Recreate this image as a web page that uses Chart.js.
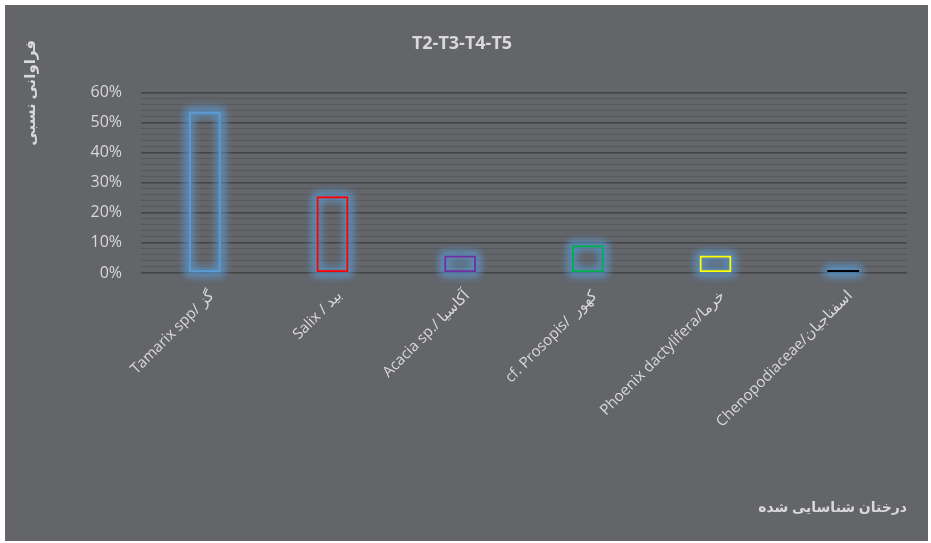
<!DOCTYPE html>
<html>
<head>
<meta charset="utf-8">
<script src="https://cdn.jsdelivr.net/npm/chart.js@4/dist/chart.umd.min.js"></script>
<style>
  body { margin: 0; background: #ffffff; }
  #wrap { position: absolute; left: 5px; top: 5px; width: 923px; height: 536px; background: #646569; }
</style>
</head>
<body>
<div id="wrap"><canvas id="treeChart" width="923" height="536"></canvas></div>
<script>
// درختان شناسایی شده
const categories = [
  "Tamarix spp/ گز",
  "Salix / بید",
  "Acacia sp./ آکاسیا",
  "cf. Prosopis/  کهور",
  "Phoenix dactylifera/خرما",
  "Chenopodiaceae/اسفناجیان"
];
// فراوانی نسبی (%)
const percentValues = [53.6, 25.5, 5.8, 9.2, 5.8, 1.0];
const barColors = ["#5b9bd5", "#ff0000", "#7030a0", "#00b050", "#ffff00", "#000000"];
const yTicks = [0, 10, 20, 30, 40, 50, 60];

const textColor = "#d9d9d9";
const baseFont = "'Open Sans', 'DejaVu Sans', sans-serif";

// soft blue glow behind the bar outlines (only the blurred shadow is kept)
const glowPlugin = {
  id: "glow",
  beforeDatasetsDraw(chart) {
    const ctx = chart.ctx;
    const meta = chart.getDatasetMeta(0);
    const shift = 5000;
    ctx.save();
    ctx.strokeStyle = "#000";
    ctx.lineWidth = 5;
    ctx.shadowColor = "rgba(91,155,213,0.85)";
    ctx.shadowBlur = 10;
    ctx.shadowOffsetX = shift;
    meta.data.forEach(bar => {
      const top = Math.min(bar.y, bar.base);
      const h = Math.max(Math.abs(bar.base - bar.y), 2);
      ctx.strokeRect(bar.x - bar.width / 2 - shift, top, bar.width, h);
      ctx.strokeRect(bar.x - bar.width / 2 - shift, top, bar.width, h);
    });
    ctx.restore();
  }
};

// vertical y title placed like the original
const yTitlePlugin = {
  id: "yTitle",
  afterDraw(chart) {
    const ctx = chart.ctx;
    ctx.save();
    ctx.translate(26, 35);
    ctx.rotate(-Math.PI / 2);
    ctx.font = "bold 15px " + baseFont;
    ctx.fillStyle = textColor;
    ctx.textAlign = "right";
    ctx.textBaseline = "middle";
    ctx.fillText("فراوانی نسبی", 0, 0);
    ctx.restore();
  }
};

new Chart(document.getElementById("treeChart"), {
  type: "bar",
  data: {
    labels: categories,
    datasets: [{
      data: percentValues,
      backgroundColor: ["transparent", "transparent", "transparent", "transparent", "transparent", "#000000"],
      borderColor: barColors,
      borderWidth: 2,
      borderSkipped: false,
      categoryPercentage: 1,
      barPercentage: 0.25
    }]
  },
  options: {
    responsive: false,
    animation: false,
    layout: { padding: { left: 12, right: 21, top: 0, bottom: 0 } },
    plugins: {
      legend: { display: false },
      tooltip: { enabled: false },
      title: {
        display: true,
        text: "T2-T3-T4-T5",
        color: textColor,
        font: { family: baseFont, size: 18, weight: "bold" },
        padding: { top: 28, bottom: 38 }
      }
    },
    scales: {
      x: {
        grid: { display: false },
        border: { display: false },
        ticks: {
          color: textColor,
          font: { family: baseFont, size: 15 },
          minRotation: 45,
          maxRotation: 45,
          padding: 6,
          labelOffset: 7
        },
        title: {
          display: true,
          text: "درختان شناسایی شده",
          align: "end",
          color: textColor,
          font: { family: baseFont, size: 14, weight: "bold" },
          padding: { top: 4, bottom: 25 }
        },
        afterFit(scale) { scale.height = 268; }
      },
      y: {
        min: 0,
        max: 60,
        border: { display: false },
        grid: {
          drawTicks: false,
          color: c => yTicks.includes(Math.round(c.tick.value)) ? "#424345" : "#57585c",
          lineWidth: c => yTicks.includes(Math.round(c.tick.value)) ? 1.6 : 1
        },
        ticks: {
          stepSize: 2,
          autoSkip: false,
          padding: 19,
          color: textColor,
          font: { family: baseFont, size: 16 },
          callback: v => yTicks.includes(Math.round(v)) ? Math.round(v) + "%" : ""
        },
        afterFit(scale) { scale.width = 124; }
      }
    }
  },
  plugins: [glowPlugin, yTitlePlugin]
});
</script>
</body>
</html>
